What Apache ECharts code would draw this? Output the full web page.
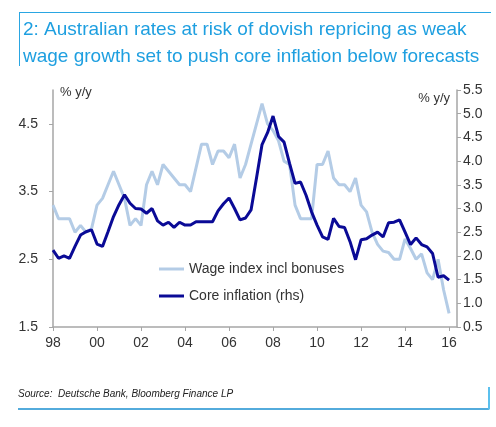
<!DOCTYPE html>
<html>
<head>
<meta charset="utf-8">
<style>
html,body{margin:0;padding:0;background:#fff;}
#chart{width:496px;height:427px;}
</style>
<script src="https://cdn.jsdelivr.net/npm/echarts@6/dist/echarts.min.js"></script>
</head>
<body>
<div id="chart"></div>
<script>
// Quarterly, 1998Q1 .. 2016Q1
const startYear = 1998;
const wageIndex = [
  3.3, 3.1, 3.1, 3.1,
  2.9, 3.0, 2.9, 2.95,
  3.3, 3.4, 3.6, 3.8,
  3.6, 3.4, 3.0, 3.1,
  3.0, 3.6, 3.8, 3.6,
  3.9, 3.8, 3.7, 3.6,
  3.6, 3.5, 3.85, 4.2,
  4.2, 3.9, 4.1, 4.1,
  4.0, 4.2, 3.7, 3.9,
  4.2, 4.5, 4.8, 4.5,
  4.4, 4.25, 3.95, 3.9,
  3.3, 3.1, 3.1, 3.1,
  3.9, 3.9, 4.1, 3.7,
  3.6, 3.6, 3.5, 3.7,
  3.3, 3.2, 2.9, 2.72,
  2.62, 2.6, 2.5, 2.5,
  2.8, 2.66, 2.5, 2.58,
  2.3, 2.2, 2.5, 2.05,
  1.7
];
const coreInflation = [
  2.12, 1.95, 2.0, 1.95,
  2.2, 2.44, 2.51, 2.55,
  2.25, 2.2, 2.51, 2.83,
  3.08, 3.29, 3.11, 3.0,
  2.99, 2.9, 3.0, 2.74,
  2.65, 2.71, 2.6, 2.71,
  2.65, 2.65, 2.72, 2.72,
  2.72, 2.72, 2.95, 3.1,
  3.22, 3.0, 2.76, 2.8,
  2.97, 3.65, 4.35, 4.6,
  4.95, 4.52, 4.4, 3.95,
  3.53, 3.56, 3.28, 2.93,
  2.65, 2.4, 2.35, 2.79,
  2.62, 2.6, 2.3, 1.92,
  2.34, 2.36, 2.44, 2.5,
  2.4, 2.7, 2.71, 2.76,
  2.5, 2.24, 2.38, 2.24,
  2.19, 2.05, 1.55, 1.58,
  1.49
];
const xTickYears = [1998, 2000, 2002, 2004, 2006, 2008, 2010, 2012, 2014, 2016];
const leftTicks = [1.5, 2.5, 3.5, 4.5];
const seriesNames = ['Wage index incl bonuses', 'Core inflation (rhs)'];

const toPairs = arr => arr.map((v, i) => [startYear + i * 0.25, v]);

const chart = echarts.init(document.getElementById('chart'));
const FONT = '"Liberation Sans", Arial, sans-serif';
const axisColor = '#a6a6a6';
const labelColor = '#333';

chart.setOption({
  animation: false,
  backgroundColor: '#fff',
  textStyle: { fontFamily: FONT },
  title: {
    text: '2: Australian rates at risk of dovish repricing as weak\nwage growth set to push core inflation below forecasts',
    left: 18, top: 11,
    textStyle: { color: '#1e9fe0', fontSize: 19, fontWeight: 'normal', lineHeight: 27, fontFamily: FONT }
  },
  grid: { left: 53, top: 90, width: 404, height: 237, containLabel: false },
  legend: {
    orient: 'vertical',
    left: 154, top: 257,
    itemWidth: 25, itemHeight: 3, itemGap: 13,
    icon: 'rect',
    textStyle: { color: labelColor, fontSize: 14, fontFamily: FONT },
    data: seriesNames
  },
  xAxis: {
    type: 'value',
    min: 1998, max: 2016.36, interval: 2,
    axisLine: { show: true, lineStyle: { color: axisColor, width: 1.5 } },
    axisTick: { show: true, length: 4, lineStyle: { color: axisColor }, customValues: xTickYears },
    axisLabel: {
      color: labelColor, fontSize: 14, margin: 9, fontFamily: FONT,
      customValues: xTickYears,
      formatter: v => String(Math.round(v) % 100).padStart(2, '0')
    },
    splitLine: { show: false }
  },
  yAxis: [
    {
      type: 'value', position: 'left',
      min: 1.5, max: 5.0, interval: 0.5,
      name: '% y/y', nameLocation: 'end', nameGap: 0,
      nameTextStyle: { color: labelColor, fontSize: 13, align: 'left', verticalAlign: 'top', padding: [-4, 0, 0, 7], fontFamily: FONT },
      axisLine: { show: true, lineStyle: { color: axisColor, width: 1.5 } },
      axisTick: { show: true, length: 4, lineStyle: { color: axisColor }, customValues: leftTicks },
      axisLabel: { color: labelColor, fontSize: 14, margin: 15, fontFamily: FONT, customValues: leftTicks, formatter: v => v.toFixed(1) },
      splitLine: { show: false }
    },
    {
      type: 'value', position: 'right',
      min: 0.5, max: 5.5, interval: 0.5,
      name: '% y/y', nameLocation: 'end', nameGap: 0,
      nameTextStyle: { color: labelColor, fontSize: 13, align: 'right', verticalAlign: 'top', padding: [2, 7, 0, 0], fontFamily: FONT },
      axisLine: { show: true, lineStyle: { color: axisColor, width: 1.5 } },
      axisTick: { show: true, length: 4, lineStyle: { color: axisColor } },
      axisLabel: { color: labelColor, fontSize: 14, margin: 6, fontFamily: FONT, formatter: v => v.toFixed(1) },
      splitLine: { show: false }
    }
  ],
  series: [
    {
      name: seriesNames[0], type: 'line', yAxisIndex: 0,
      data: toPairs(wageIndex), symbol: 'none', smooth: false,
      lineStyle: { color: '#b4cce6', width: 3 }, itemStyle: { color: '#b4cce6' }, z: 2
    },
    {
      name: seriesNames[1], type: 'line', yAxisIndex: 1,
      data: toPairs(coreInflation), symbol: 'none', smooth: false,
      lineStyle: { color: '#0a0a96', width: 3 }, itemStyle: { color: '#0a0a96' }, z: 3
    }
  ],
  graphic: [
    { type: 'line', shape: { x1: 19, y1: 12.5, x2: 491, y2: 12.5 }, style: { stroke: '#2aa6e2', lineWidth: 1 } },
    { type: 'line', shape: { x1: 19.5, y1: 12.5, x2: 19.5, y2: 66 }, style: { stroke: '#2aa6e2', lineWidth: 1 } },
    { type: 'text', left: 18, top: 389, style: { text: 'Source:  Deutsche Bank, Bloomberg Finance LP', font: 'italic 10px "Liberation Sans", Arial, sans-serif', fill: '#222' } },
    { type: 'line', shape: { x1: 18, y1: 409, x2: 489, y2: 409 }, style: { stroke: '#1a8fd0', lineWidth: 1.5 } },
    { type: 'line', shape: { x1: 489, y1: 387, x2: 489, y2: 409.5 }, style: { stroke: '#5bc0ee', lineWidth: 2 } }
  ]
});
</script>
</body>
</html>
